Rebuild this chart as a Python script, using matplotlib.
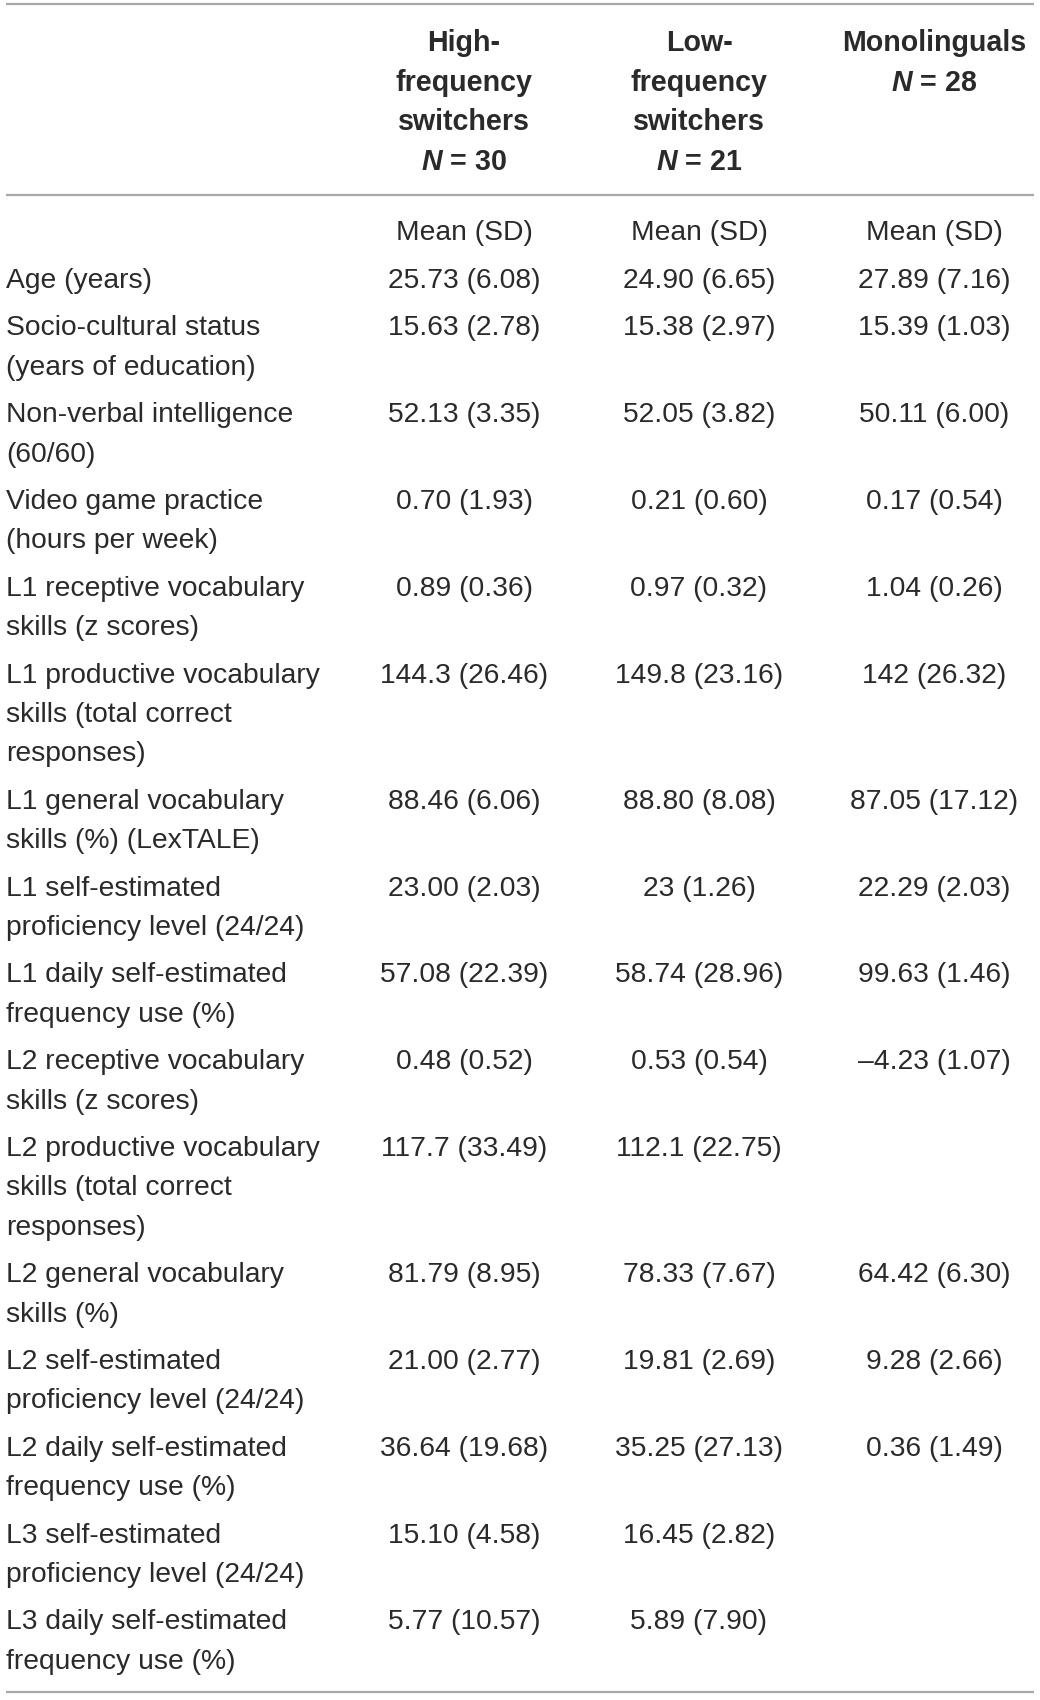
import matplotlib
matplotlib.use("Agg")
import matplotlib.pyplot as plt

plt.rcParams['font.family'] = ['Liberation Sans', 'DejaVu Sans']
plt.rcParams['mathtext.fontset'] = 'custom'
plt.rcParams['mathtext.it'] = 'Liberation Sans:italic:bold'
plt.rcParams['mathtext.rm'] = 'Liberation Sans:bold'

# ---- data ----
col_headers = [
    ["High-", "frequency", "switchers", r"$N$ = 30"],
    ["Low-", "frequency", "switchers", r"$N$ = 21"],
    ["Monolinguals", r"$N$ = 28"],
]
subheader = ["Mean (SD)", "Mean (SD)", "Mean (SD)"]

row_labels = [
    ["Age (years)"],
    ["Socio-cultural status", "(years of education)"],
    ["Non-verbal intelligence", "(60/60)"],
    ["Video game practice", "(hours per week)"],
    ["L1 receptive vocabulary", "skills (z scores)"],
    ["L1 productive vocabulary", "skills (total correct", "responses)"],
    ["L1 general vocabulary", "skills (%) (LexTALE)"],
    ["L1 self-estimated", "proficiency level (24/24)"],
    ["L1 daily self-estimated", "frequency use (%)"],
    ["L2 receptive vocabulary", "skills (z scores)"],
    ["L2 productive vocabulary", "skills (total correct", "responses)"],
    ["L2 general vocabulary", "skills (%)"],
    ["L2 self-estimated", "proficiency level (24/24)"],
    ["L2 daily self-estimated", "frequency use (%)"],
    ["L3 self-estimated", "proficiency level (24/24)"],
    ["L3 daily self-estimated", "frequency use (%)"],
]
high_freq = ["25.73 (6.08)", "15.63 (2.78)", "52.13 (3.35)", "0.70 (1.93)",
             "0.89 (0.36)", "144.3 (26.46)", "88.46 (6.06)", "23.00 (2.03)",
             "57.08 (22.39)", "0.48 (0.52)", "117.7 (33.49)", "81.79 (8.95)",
             "21.00 (2.77)", "36.64 (19.68)", "15.10 (4.58)", "5.77 (10.57)"]
low_freq = ["24.90 (6.65)", "15.38 (2.97)", "52.05 (3.82)", "0.21 (0.60)",
            "0.97 (0.32)", "149.8 (23.16)", "88.80 (8.08)", "23 (1.26)",
            "58.74 (28.96)", "0.53 (0.54)", "112.1 (22.75)", "78.33 (7.67)",
            "19.81 (2.69)", "35.25 (27.13)", "16.45 (2.82)", "5.89 (7.90)"]
mono = ["27.89 (7.16)", "15.39 (1.03)", "50.11 (6.00)", "0.17 (0.54)",
        "1.04 (0.26)", "142 (26.32)", "87.05 (17.12)", "22.29 (2.03)",
        "99.63 (1.46)", "\u20134.23 (1.07)", "", "64.42 (6.30)",
        "9.28 (2.66)", "0.36 (1.49)", "", ""]

# ---- layout ----
W, H = 1040, 1700
fig = plt.figure(figsize=(W / 100, H / 100), dpi=100)
ax = fig.add_axes([0, 0, 1, 1])
ax.set_xlim(0, W)
ax.set_ylim(H, 0)
ax.axis('off')

txt_color = '#2a2a2a'
line_color = '#a8a8a8'
fs = 20.3
fs_bold = 20.6
col_x = [464, 699, 934]
label_x = 6
line_h = 39.4
row_gap = 8.0

# rules
for y in (4, 195, 1692):
    ax.plot([6, 1034], [y, y], color=line_color, lw=1.6, solid_capstyle='butt')

# column headers
for cx, hdr in zip(col_x, col_headers):
    for i, t in enumerate(hdr):
        ax.text(cx, 43 + i * 39.6, t, ha='center', va='center', fontsize=fs_bold,
                fontweight='bold', color=txt_color)

for cx, t in zip(col_x, subheader):
    ax.text(cx, 233, t, ha='center', va='center', fontsize=fs, color=txt_color)

# body
y = 281
values = list(zip(high_freq, low_freq, mono))
for lab, vals in zip(row_labels, values):
    for i, t in enumerate(lab):
        ax.text(label_x, y + i * line_h, t, ha='left', va='center', fontsize=fs,
                color=txt_color)
    for cx, v in zip(col_x, vals):
        if v:
            ax.text(cx, y, v, ha='center', va='center', fontsize=fs, color=txt_color)
    y += len(lab) * line_h + row_gap

fig.savefig("out.png", dpi=100, facecolor='white')
